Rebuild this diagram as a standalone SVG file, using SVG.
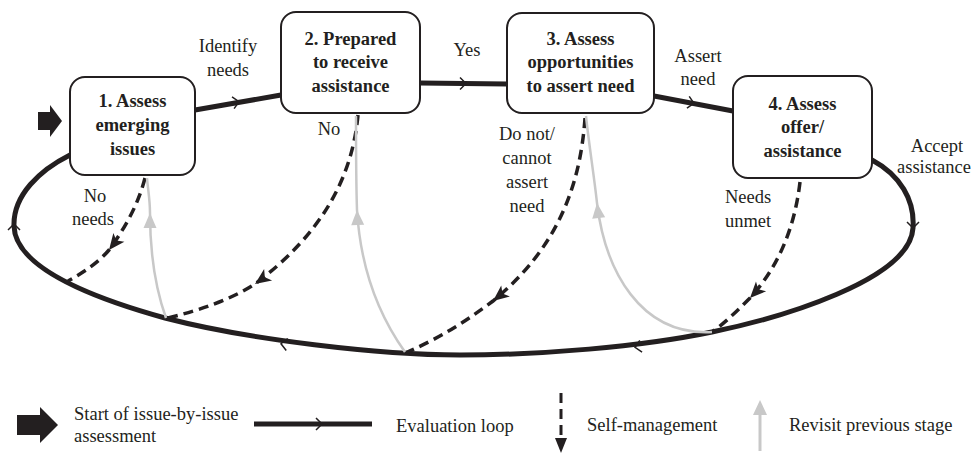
<svg xmlns="http://www.w3.org/2000/svg" xmlns:xlink="http://www.w3.org/1999/xlink" width="972" height="454" viewBox="0 0 972 454">
<style>
.box{fill:#fff;stroke:#231f20;stroke-width:2}
text{font-family:'Liberation Serif','Times New Roman',Tinos,'DejaVu Serif',serif;font-size:18.5px;fill:#231f20}
.bt{font-weight:bold;text-anchor:middle}
.lt{text-anchor:middle}
.loop{fill:none;stroke:#231f20;stroke-width:5}
.dash{fill:none;stroke:#231f20;stroke-width:3.5;stroke-dasharray:10 6}
.gray{fill:none;stroke:#c8c8c8;stroke-width:2.5}
</style>
<defs>
<path id="chev" d="M-4,-6 L2,0 L-4,6" fill="none" stroke="#231f20" stroke-width="1.5"/>
<marker id="ahb" markerUnits="userSpaceOnUse" viewBox="-17 -8 18 16" refX="0" refY="0" markerWidth="18" markerHeight="16" orient="auto"><path d="M0,0 L-16,-7 L-12,0 L-16,7 Z" fill="#231f20"/></marker>
<marker id="ahg" markerUnits="userSpaceOnUse" viewBox="-17 -8 18 16" refX="0" refY="0" markerWidth="18" markerHeight="16" orient="auto"><path d="M0,0 L-15,-6.5 L-15,6.5 Z" fill="#c8c8c8"/></marker>
</defs>
<g id="connectors">
<path class="loop" d="M195,110 L281,95"/>
<path class="loop" d="M420,83 L507,84"/>
<path class="loop" d="M654,96 L733,111"/>
<path class="loop" d="M872,160 C900,175 915,200 913,228 C910,280 780,318 712,332 C640,347 540,355 460,355 C380,355 250,340 165,318 C100,300 15,270 14,226 C13,195 40,170 70,155"/>
<use xlink:href="#chev" transform="translate(237,102) rotate(-10)"/>
<use xlink:href="#chev" transform="translate(464,83.5)"/>
<use xlink:href="#chev" transform="translate(692,103) rotate(11)"/>
<use xlink:href="#chev" transform="translate(913,226) rotate(90)"/>
<use xlink:href="#chev" transform="translate(637,347) rotate(169)"/>
<use xlink:href="#chev" transform="translate(283,344) rotate(187)"/>
<use xlink:href="#chev" transform="translate(14,226) rotate(-90)"/>
<path class="dash" marker-mid="url(#ahb)" d="M145,178 C138,205 125,228 109,250 C98,263 84,272 68,281"/>
<path class="dash" marker-mid="url(#ahb)" d="M358,115 C352,180 320,235 255,284 C230,300 200,310 168,318"/>
<path class="dash" marker-mid="url(#ahb)" d="M585,118 C580,190 555,250 493,301 C465,322 440,338 405,353"/>
<path class="dash" marker-mid="url(#ahb)" d="M800,182 C795,225 780,265 750,298 C738,310 726,322 712,332"/>
<path class="gray" marker-mid="url(#ahg)" d="M166,318 C156,290 150,255 150,213 C150,200 148,190 147,178"/>
<path class="gray" marker-mid="url(#ahg)" d="M405,352 C375,310 360,260 357,210 C356,180 356,150 356,116"/>
<path class="gray" marker-mid="url(#ahg)" d="M712,332 C640,336 605,270 597,203 C594,175 589,145 586,116"/>
</g>
<path d="M38,112 H50 V105 L62,121 L50,137 V130 H38 Z" fill="#231f20"/>
<g id="n1">
<rect class="box" x="70" y="77" width="125" height="98" rx="15"/>
<text class="bt" x="132.5" y="107">1. Assess</text>
<text class="bt" x="132.5" y="131">emerging</text>
<text class="bt" x="132.5" y="155">issues</text>
</g>
<g id="n2">
<rect class="box" x="281" y="12" width="139" height="101" rx="15"/>
<text class="bt" x="350.5" y="45">2. Prepared</text>
<text class="bt" x="350.5" y="68">to receive</text>
<text class="bt" x="350.5" y="92">assistance</text>
</g>
<g id="n3">
<rect class="box" x="507" y="13" width="147" height="100" rx="15"/>
<text class="bt" x="580.5" y="45">3. Assess</text>
<text class="bt" x="580.5" y="68">opportunities</text>
<text class="bt" x="580.5" y="92">to assert need</text>
</g>
<g id="n4">
<rect class="box" x="733" y="76" width="139" height="102" rx="15"/>
<text class="bt" x="802.5" y="110">4. Assess</text>
<text class="bt" x="802.5" y="133">offer/</text>
<text class="bt" x="802.5" y="157">assistance</text>
</g>
<g id="labels">
<text class="lt" x="228" y="52">Identify</text>
<text class="lt" x="228" y="76">needs</text>
<text class="lt" x="467" y="56">Yes</text>
<text class="lt" x="698" y="62">Assert</text>
<text class="lt" x="698" y="85">need</text>
<text class="lt" x="937" y="152">Accept</text>
<text class="lt" x="934" y="173">assistance</text>
<text class="lt" x="329" y="135">No</text>
<text class="lt" x="527" y="140">Do not/</text>
<text class="lt" x="527" y="164">cannot</text>
<text class="lt" x="527" y="188">assert</text>
<text class="lt" x="527" y="212">need</text>
<text class="lt" x="748" y="203">Needs</text>
<text class="lt" x="748" y="227">unmet</text>
<text class="lt" x="95" y="202">No</text>
<text class="lt" x="93" y="225">needs</text>
</g>
<g id="legend">
<path d="M17,415 H40 V407 L58,425 L40,443 V435 H17 Z" fill="#231f20"/>
<text x="74" y="420">Start of issue-by-issue</text>
<text x="74" y="442">assessment</text>
<line x1="254" y1="424" x2="372" y2="424" stroke="#231f20" stroke-width="5"/>
<use xlink:href="#chev" transform="translate(320,424)"/>
<text x="396" y="432">Evaluation loop</text>
<line x1="561" y1="393" x2="561" y2="440" stroke="#231f20" stroke-width="3" stroke-dasharray="10 6"/>
<path d="M561,453 L555,438 L567,438 Z" fill="#231f20"/>
<text x="587" y="431">Self-management</text>
<line x1="760" y1="412" x2="760" y2="451" stroke="#c8c8c8" stroke-width="3"/>
<path d="M760,400 L767,415 L753,415 Z" fill="#c8c8c8"/>
<text x="789" y="431">Revisit previous stage</text>
</g>
</svg>
